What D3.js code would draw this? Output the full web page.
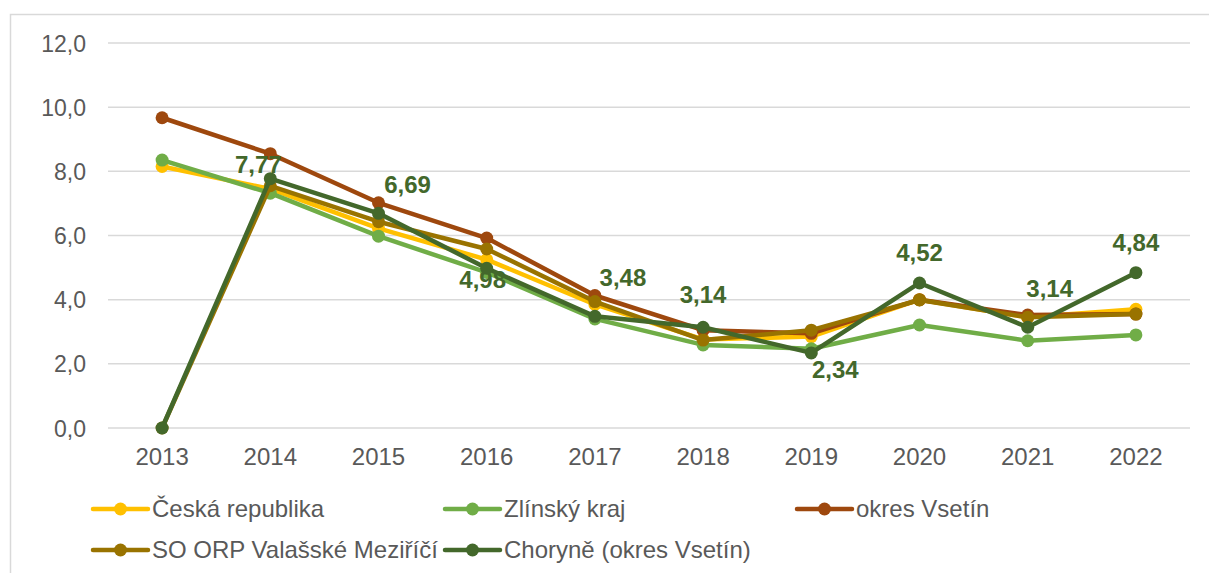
<!DOCTYPE html>
<html><head><meta charset="utf-8">
<script src="https://cdn.jsdelivr.net/npm/d3@7"></script>
<style>
html,body{margin:0;padding:0;background:#fff;}
svg text{font-family:"Liberation Sans",Arial,sans-serif;}
</style></head>
<body>
<svg id="c" width="1209" height="573"></svg>
<script>
const years = ["2013","2014","2015","2016","2017","2018","2019","2020","2021","2022"];
const yTicks = [0,2,4,6,8,10,12];
const seriesNames = ["Česká republika","Zlínský kraj","okres Vsetín","SO ORP Valašské Meziříčí","Choryně (okres Vsetín)"];
const ceskaRepublika = [8.15,7.45,6.22,5.25,3.85,2.76,2.85,4.0,3.45,3.7];
const zlinskyKraj    = [8.35,7.32,5.98,4.85,3.4,2.59,2.47,3.21,2.72,2.9];
const okresVsetin    = [9.67,8.55,7.02,5.92,4.13,3.05,2.95,4.0,3.52,3.55];
const soOrpValMez    = [0,7.55,6.43,5.58,3.94,2.74,3.05,3.99,3.45,3.55];
const choryne        = [0,7.77,6.69,4.98,3.48,3.14,2.34,4.52,3.14,4.84];
const choryneLabels  = [null,"7,77","6,69","4,98","3,48","3,14","2,34","4,52","3,14","4,84"];
const colors = ["#FFC000","#70AD47","#9E480E","#997300","#43682B"];
// label placement offsets (layout only)
const labelOffsets = [null,[-12,-6],[29,-20],[-4,20],[28,-30],[0,-24],[24,25],[0,-22],[22,-30],[0,-22]];

const allSeries = [ceskaRepublika,zlinskyKraj,okresVsetin,soOrpValMez,choryne];
const svg = d3.select("#c");

// outer frame
svg.append("path").attr("d","M10.5,573 L10.5,14.5 L1209,14.5").attr("fill","none").attr("stroke","#D9D9D9").attr("stroke-width",1.5);

const x = d3.scaleBand().domain(years).range([108,1190]);
const y = d3.scaleLinear().domain([0,12]).range([428,43]);
const cx = d => x(d) + x.bandwidth()/2;

// grid
svg.append("g").selectAll("line").data(yTicks).join("line")
  .attr("x1",108).attr("x2",1190).attr("y1",d=>y(d)).attr("y2",d=>y(d))
  .attr("stroke","#D9D9D9").attr("stroke-width",1.5);

// y axis labels
const yAxis = d3.axisLeft(y).tickValues(yTicks).tickFormat(d=>d3.format(".1f")(d).replace(".",",")).tickSize(0).tickPadding(0);
const gy = svg.append("g").attr("transform","translate(86,0)").call(yAxis);
gy.select(".domain").remove();
gy.selectAll("text").attr("fill","#595959").style("font-size","23px").attr("dy","0.35em");

// x axis labels
const xAxis = d3.axisBottom(x).tickSize(0).tickPadding(0);
const gx = svg.append("g").attr("transform","translate(0,457)").call(xAxis);
gx.select(".domain").remove();
gx.selectAll("text").attr("fill","#595959").style("font-size","24px").attr("y",0).attr("dy","0.35em");

const line = d3.line().x((d,i)=>cx(years[i])).y(d=>y(d));

allSeries.forEach((s,k)=>{
  const g = svg.append("g");
  g.append("path").attr("d",line(s)).attr("fill","none").attr("stroke",colors[k])
    .attr("stroke-width",4.5).attr("stroke-linejoin","round").attr("stroke-linecap","round");
  g.selectAll("circle").data(s).join("circle")
    .attr("cx",(d,i)=>cx(years[i])).attr("cy",d=>y(d)).attr("r",6.5).attr("fill",colors[k]);
});

// data labels for Choryně
svg.append("g").selectAll("text").data(choryne.map((v,i)=>({v,i}))).join("text")
  .filter(d=>choryneLabels[d.i]!==null)
  .attr("x",d=>cx(years[d.i])+labelOffsets[d.i][0])
  .attr("y",d=>y(d.v)+labelOffsets[d.i][1])
  .attr("text-anchor","middle").attr("fill","#43682B")
  .style("font-size","24px").style("font-weight","bold")
  .text(d=>choryneLabels[d.i]);

// legend
const legendPos = [[93,509],[445,509],[797,509],[93,550],[445,550]];
seriesNames.forEach((n,k)=>{
  const [lx,ly] = legendPos[k];
  const g = svg.append("g");
  g.append("line").attr("x1",lx).attr("x2",lx+55).attr("y1",ly).attr("y2",ly)
    .attr("stroke",colors[k]).attr("stroke-width",4.5).attr("stroke-linecap","round");
  g.append("circle").attr("cx",lx+27.5).attr("cy",ly).attr("r",6.5).attr("fill",colors[k]);
  g.append("text").attr("x",lx+59).attr("y",ly).attr("dy","0.35em").attr("fill","#595959")
    .style("font-size","24px").text(n);
});
</script>
</body></html>
